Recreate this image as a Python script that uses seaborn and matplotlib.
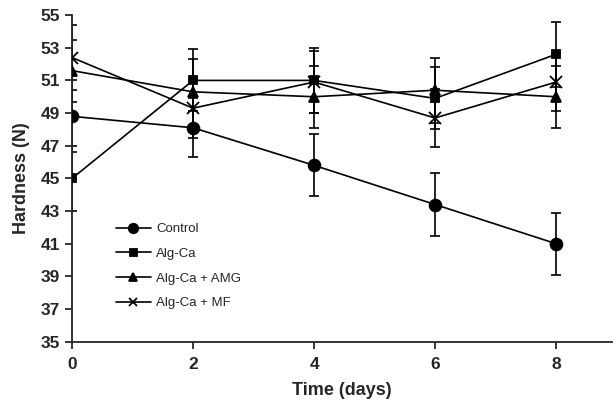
#Hardness over storage time
import numpy as np
import pandas as pd
import matplotlib
matplotlib.use("Agg")
import matplotlib.pyplot as plt
import seaborn as sns

#data
days = [0, 2, 4, 6, 8]
groups = ["Control", "Alg-Ca", "Alg-Ca + AMG", "Alg-Ca + MF"]
control = [48.8, 48.1, 45.8, 43.4, 41.0]
alg_ca = [45.0, 51.0, 51.0, 49.9, 52.6]
alg_ca_amg = [51.6, 50.3, 50.0, 50.4, 50.0]
alg_ca_mf = [52.4, 49.3, 50.9, 48.7, 50.9]
control_sd = [2.2, 1.8, 1.9, 1.9, 1.9]
alg_ca_sd = [2.0, 1.9, 2.0, 1.9, 2.0]
alg_ca_amg_sd = [1.9, 2.0, 1.9, 2.0, 1.9]
alg_ca_mf_sd = [2.0, 1.8, 1.9, 1.8, 1.8]
y_ticks = list(range(35, 56, 2))

values = [control, alg_ca, alg_ca_amg, alg_ca_mf]
sds = [control_sd, alg_ca_sd, alg_ca_amg_sd, alg_ca_mf_sd]
df = pd.DataFrame({
    "day": days * len(groups),
    "hardness": sum(values, []),
    "sd": sum(sds, []),
    "group": [g for g in groups for _ in days],
})

sns.set_style("ticks")
plt.rcParams["font.family"] = ["Liberation Sans", "DejaVu Sans"]

markers = {"Control": "o", "Alg-Ca": "s", "Alg-Ca + AMG": "^", "Alg-Ca + MF": "x"}
sizes = {"Control": 8.5, "Alg-Ca": 6.3, "Alg-Ca + AMG": 7.5, "Alg-Ca + MF": 8}

fig = plt.figure(figsize=(6.13, 4.08), dpi=100)
ax = fig.add_axes([0.1175, 0.1625, 0.8815, 0.8005])

for g in groups:
    sub = df[df["group"] == g]
    ax.errorbar(sub["day"], sub["hardness"], yerr=sub["sd"], fmt="none",
                ecolor="black", elinewidth=1.2, capsize=3.5, capthick=1.2, zorder=2)
    sns.lineplot(data=sub, x="day", y="hardness", ax=ax, color="black",
                 marker=markers[g], markersize=sizes[g], markeredgewidth=1.3,
                 markeredgecolor="black", markerfacecolor="black",
                 linewidth=1.2, label=g, zorder=3)

ax.set_xlim(0, 8.93)
ax.set_ylim(35, 55)
ax.set_xticks(days)
ax.set_yticks(y_ticks)
ax.tick_params(axis="both", direction="out", length=5, width=1.3, labelsize=12.5)
ax.tick_params(axis="x", pad=6)
for lab in ax.get_xticklabels() + ax.get_yticklabels():
    lab.set_fontweight("bold")
sns.despine(ax=ax)
ax.spines["left"].set_linewidth(1.3)
ax.spines["bottom"].set_linewidth(1.3)
ax.set_xlabel("Time (days)", fontsize=13, fontweight="bold", labelpad=7)
ax.set_ylabel("Hardness (N)", fontsize=13, fontweight="bold", labelpad=8)

ax.legend(loc="upper left", bbox_to_anchor=(0.06, 0.40), frameon=False,
          fontsize=9.5, handlelength=2.6, labelspacing=0.95, handletextpad=0.4,
          markerscale=0.8)

plt.savefig("out.png", dpi=100)
plt.close()
